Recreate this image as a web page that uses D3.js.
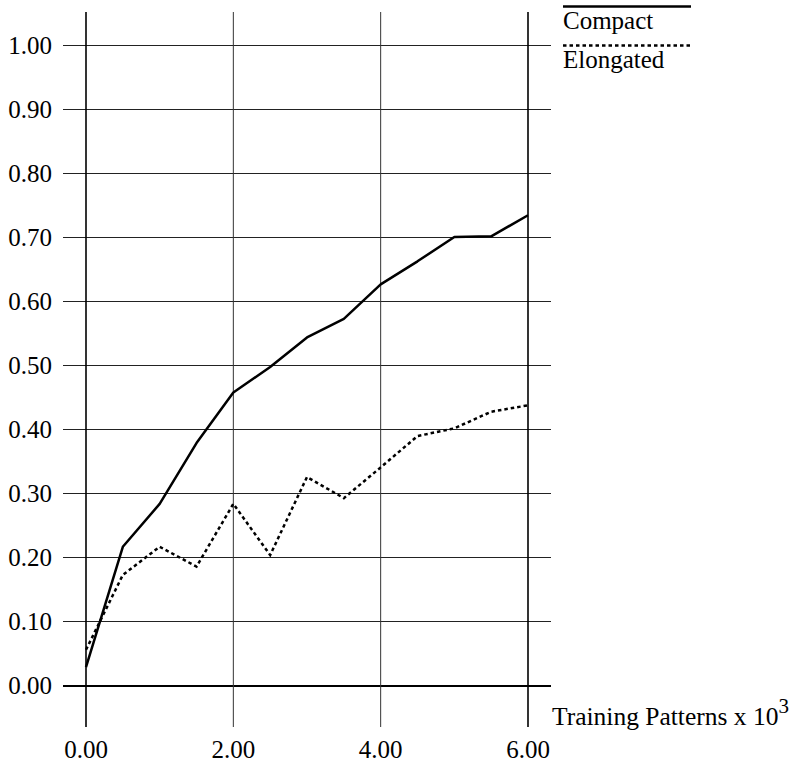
<!DOCTYPE html>
<html>
<head>
<meta charset="utf-8">
<script src="https://cdn.jsdelivr.net/npm/d3@7"></script>
<style>
  html, body { margin: 0; padding: 0; background: #fff; }
  svg { display: block; }
  text { font-family: "Liberation Serif", "Times New Roman", Times, serif; fill: #000; }
</style>
</head>
<body>
<svg id="chart" width="794" height="764"></svg>
<script>
const xValues = [0, 0.5, 1, 1.5, 2, 2.5, 3, 3.5, 4, 4.5, 5, 5.5, 6];
const compact = [0.028, 0.216, 0.283, 0.378, 0.457, 0.497, 0.543, 0.572, 0.626, 0.662, 0.700, 0.701, 0.734];
const elongated = [0.055, 0.172, 0.216, 0.185, 0.283, 0.203, 0.325, 0.292, 0.340, 0.389, 0.401, 0.427, 0.437];
const yTicks = [0, 0.1, 0.2, 0.3, 0.4, 0.5, 0.6, 0.7, 0.8, 0.9, 1.0];
const xTicks = [0, 2, 4, 6];
const seriesNames = ["Compact", "Elongated"];

const svg = d3.select("#chart");
const x = d3.scaleLinear().domain([0, 6]).range([86, 528]);
const y = d3.scaleLinear().domain([0, 1]).range([685, 45]);

// horizontal gridlines
svg.append("g").selectAll("line").data(yTicks).join("line")
  .attr("x1", 63).attr("x2", 551)
  .attr("y1", d => y(d) + 0.5).attr("y2", d => y(d) + 0.5)
  .attr("stroke", d => d === 0 ? "#000" : "#222")
  .attr("stroke-width", d => d === 0 ? 2 : 1)
  .attr("shape-rendering", "crispEdges");

// vertical gridlines
svg.append("g").selectAll("line").data(xTicks).join("line")
  .attr("x1", d => x(d)).attr("x2", d => x(d))
  .attr("y1", 12).attr("y2", 727)
  .attr("stroke", d => (d === 0 || d === 6) ? "#000" : "#333")
  .attr("stroke-width", d => (d === 0 || d === 6) ? 1.6 : 1);

// y tick labels
svg.append("g").selectAll("text").data(yTicks).join("text")
  .attr("x", 52).attr("y", d => y(d) + 9)
  .attr("text-anchor", "end")
  .attr("font-size", 25)
  .text(d => d3.format(".2f")(d));

// x tick labels
svg.append("g").selectAll("text").data(xTicks).join("text")
  .attr("x", d => x(d)).attr("y", 758)
  .attr("text-anchor", "middle")
  .attr("font-size", 25)
  .text(d => d3.format(".2f")(d));

// axis title
const t = svg.append("text").attr("x", 552).attr("y", 725).attr("font-size", 25.5);
t.append("tspan").text("Training Patterns x 10");
t.append("tspan").attr("dy", -12).attr("font-size", 21).text("3");

// lines
const line = d3.line().x((d, i) => x(xValues[i])).y(d => y(d));
svg.append("path").datum(compact)
  .attr("d", line).attr("fill", "none")
  .attr("stroke", "#000").attr("stroke-width", 2.5)
  .attr("stroke-linejoin", "round");
svg.append("path").datum(elongated)
  .attr("d", line).attr("fill", "none")
  .attr("stroke", "#000").attr("stroke-width", 2.5)
  .attr("stroke-dasharray", "3.5,3");

// legend
const legend = svg.append("g");
legend.append("line").attr("x1", 563).attr("x2", 691).attr("y1", 6.5).attr("y2", 6.5)
  .attr("stroke", "#000").attr("stroke-width", 2.4);
legend.append("text").attr("x", 563).attr("y", 29).attr("font-size", 25).text(seriesNames[0]);
legend.append("line").attr("x1", 563).attr("x2", 691).attr("y1", 45.5).attr("y2", 45.5)
  .attr("stroke", "#000").attr("stroke-width", 2.4).attr("stroke-dasharray", "3.5,3");
legend.append("text").attr("x", 563).attr("y", 68).attr("font-size", 25).text(seriesNames[1]);
</script>
</body>
</html>
